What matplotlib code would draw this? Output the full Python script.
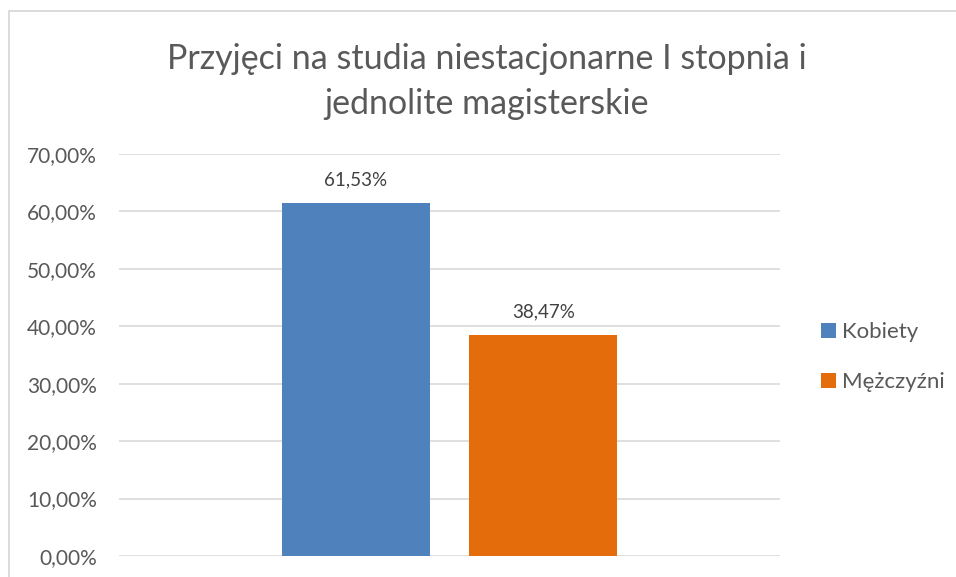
import matplotlib.pyplot as plt
from matplotlib.lines import Line2D
from matplotlib.ticker import FuncFormatter

# data
series = ['Kobiety', 'Mężczyźni']
values = [61.53, 38.47]
colors = ['#4F81BD', '#E46C0A']
title = 'Przyjęci na studia niestacjonarne I stopnia i\njednolite magisterskie'

plt.rcParams['font.family'] = ['Lato', 'DejaVu Sans']
gray = '#595959'

fig = plt.figure(figsize=(9.56, 5.77), dpi=100)
ax = fig.add_axes([0.1245, 0.0364, 0.6915, 0.6966])

# chart border (only top and left edges visible in the crop)
bx, by = 8.5 / 956, 1 - 10.5 / 577
fig.lines.append(Line2D([bx, bx, 1.0], [0.0, by, by], transform=fig.transFigure,
                        color='#D9D9D9', linewidth=1.3))

width = 0.224
offsets = [-0.1418, 0.1418]
for name, val, col, off in zip(series, values, colors, offsets):
    ax.bar(0.5 + off, val, width=width, color=col, label=name, zorder=3)
    ax.text(0.5 + off, val + 2.5, ('%.2f%%' % val).replace('.', ','),
            ha='center', va='bottom', fontsize=13.5, color='#404040')

ax.set_xlim(0, 1)
ax.set_ylim(0, 70)
ax.set_yticks(range(0, 71, 10))
ax.yaxis.set_major_formatter(FuncFormatter(lambda v, p: ('%.2f%%' % v).replace('.', ',')))
ax.set_xticks([])
ax.grid(axis='y', color='#D9D9D9', linewidth=1.2, zorder=0)
for s in ax.spines.values():
    s.set_visible(False)
ax.tick_params(axis='y', length=0, pad=16, labelsize=15, labelcolor=gray)

fig.text(0.509, 0.858, title, ha='center', va='center', fontsize=24.5,
         color=gray, linespacing=1.5)

leg = fig.legend(loc='center left', bbox_to_anchor=(0.859, 0.381), frameon=False,
                 fontsize=16, labelcolor=gray, handlelength=0.65, handleheight=0.65,
                 handletextpad=0.3, labelspacing=1.35, borderaxespad=0, borderpad=0)

plt.savefig('out.png')
